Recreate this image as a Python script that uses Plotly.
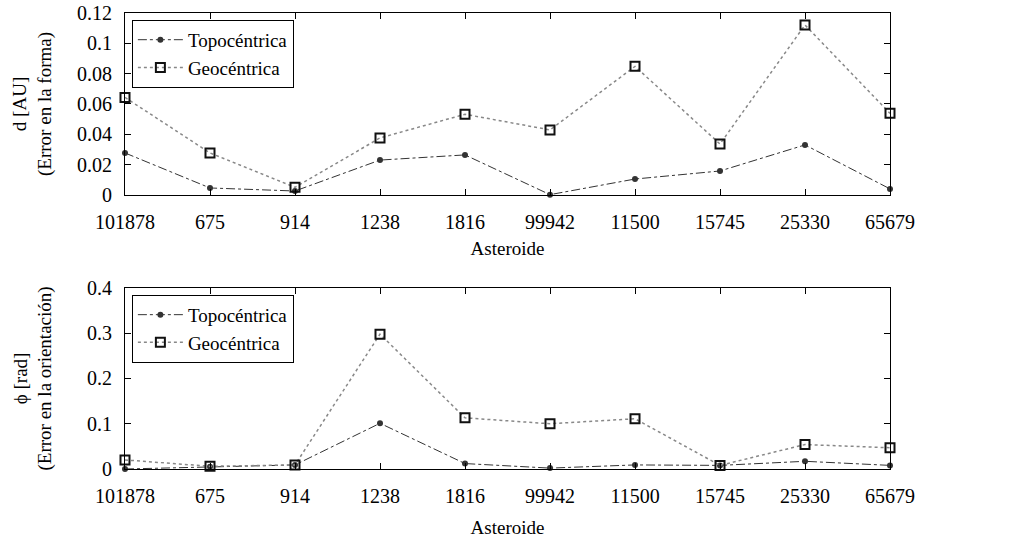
import plotly.graph_objects as go

asteroides = ["101878", "675", "914", "1238", "1816", "99942", "11500", "15745", "25330", "65679"]
d_topo = [0.0277, 0.0046, 0.0026, 0.023, 0.0264, 0.0002, 0.0105, 0.0158, 0.033, 0.004]
d_geo = [0.0643, 0.0277, 0.005, 0.0376, 0.0532, 0.0429, 0.0848, 0.0336, 0.1121, 0.0538]
phi_topo = [0.0, 0.005, 0.009, 0.101, 0.012, 0.002, 0.009, 0.008, 0.017, 0.008]
phi_geo = [0.02, 0.006, 0.009, 0.298, 0.113, 0.1, 0.111, 0.008, 0.054, 0.047]

xi = list(range(len(asteroides)))
FONT = "Liberation Serif"
TICK = 20
TXT = 19

fig = go.Figure()

def add_pair(ytopo, ygeo, xa, ya, leg):
    fig.add_trace(go.Scatter(
        x=xi, y=ytopo, name="Topocéntrica", mode="lines+markers",
        line=dict(color="#333333", width=1, dash="dashdot"),
        marker=dict(symbol="circle", size=6, color="#333333"),
        xaxis=xa, yaxis=ya, legend=leg, cliponaxis=False))
    fig.add_trace(go.Scatter(
        x=xi, y=ygeo, name="Geocéntrica", mode="lines+markers",
        line=dict(color="#888888", width=1.5, dash="dot"),
        marker=dict(symbol="square-open", size=9, color="#111111", line=dict(width=2)),
        xaxis=xa, yaxis=ya, legend=leg, cliponaxis=False))

add_pair(d_topo, d_geo, "x", "y", "legend")
add_pair(phi_topo, phi_geo, "x2", "y2", "legend2")

axis_common = dict(showline=True, linecolor="black", linewidth=1, mirror="ticks",
                   ticks="inside", ticklen=6, tickcolor="black", showgrid=False, automargin=False,
                   zeroline=False, tickfont=dict(family=FONT, size=TICK, color="black"))

xcommon = dict(axis_common, tickmode="array", tickvals=xi, ticktext=asteroides,
               range=[0, len(asteroides) - 1], ticklabelstandoff=9)

fig.update_layout(
    width=1027, height=540,
    margin=dict(l=125, r=137, t=13, b=71),
    paper_bgcolor="white", plot_bgcolor="white",
    font=dict(family=FONT, size=TXT, color="black"),
    xaxis=dict(xcommon, anchor="y",
               title=dict(text="Asteroide", font=dict(family=FONT, size=TXT, color="black"), standoff=9)),
    xaxis2=dict(xcommon, anchor="y2",
                title=dict(text="Asteroide", font=dict(family=FONT, size=TXT, color="black"), standoff=14)),
    yaxis=dict(axis_common, domain=[0.601, 1], range=[0, 0.12], tickvals=[0, 0.02, 0.04, 0.06, 0.08, 0.1, 0.12],
               ticktext=["0", "0.02", "0.04", "0.06", "0.08", "0.1", "0.12"], anchor="x", ticklabelstandoff=8),
    yaxis2=dict(axis_common, domain=[0, 0.397], range=[0, 0.4], tickvals=[0, 0.1, 0.2, 0.3, 0.4],
                ticktext=["0", "0.1", "0.2", "0.3", "0.4"], anchor="x2", ticklabelstandoff=8),
    legend=dict(x=0.009, y=0.985, xanchor="left", yanchor="top", bordercolor="black", borderwidth=1,
                bgcolor="white", font=dict(family=FONT, size=TXT, color="black"), tracegroupgap=0,
                itemwidth=45),
    legend2=dict(x=0.009, y=0.382, xanchor="left", yanchor="top", bordercolor="black", borderwidth=1,
                 bgcolor="white", font=dict(family=FONT, size=TXT, color="black"), tracegroupgap=0,
                 itemwidth=45),
    showlegend=True,
    annotations=[
        dict(text="d [AU]<br>(Error en la forma)", textangle=-90, xref="paper", yref="paper",
             x=(33 - 125) / 765, y=(0.601 + 1) / 2, xanchor="center", yanchor="middle", showarrow=False,
             font=dict(family=FONT, size=TXT, color="black")),
        dict(text="ϕ [rad]<br>(Error en la orientación)", textangle=-90, xref="paper", yref="paper",
             x=(33 - 125) / 765, y=0.397 / 2, xanchor="center", yanchor="middle", showarrow=False,
             font=dict(family=FONT, size=TXT, color="black")),
    ],
)

fig.write_html("out.html")
